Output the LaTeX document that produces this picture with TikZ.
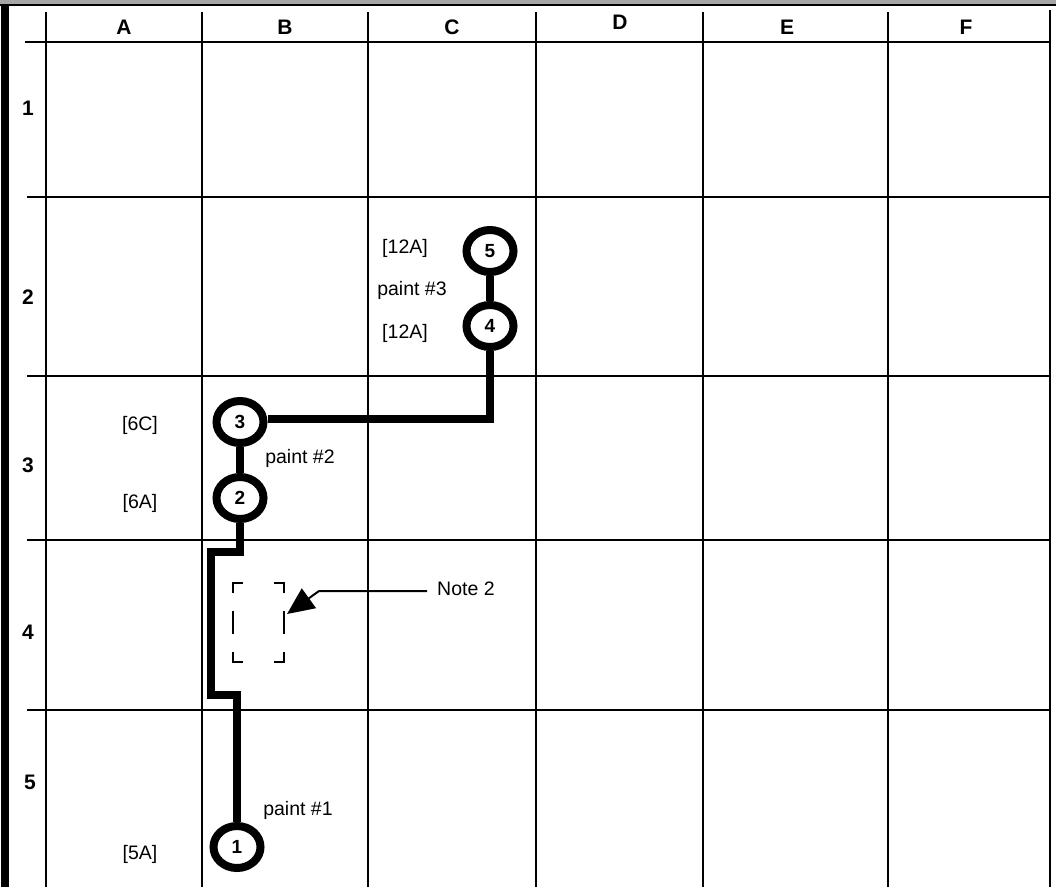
\documentclass[tikz,border=0pt]{standalone}
\usepackage{fontspec}
\setmainfont{Liberation Sans}
\usetikzlibrary{shapes.geometric,arrows.meta}
\definecolor{bandgray}{HTML}{A6A6A6}
\tikzset{
  gridline/.style={line width=2pt},
  hdr/.style={font=\bfseries\fontsize{21}{22}\selectfont, inner sep=0pt},
  lbl/.style={font=\fontsize{19.5}{21}\selectfont, inner sep=0pt},
  pt/.style={ellipse, draw, line width=8pt, minimum width=47pt, minimum height=42pt,
    inner sep=0pt, font=\bfseries\fontsize{19}{20}\selectfont},
  paint/.style={line width=7.5pt},
  dashbox/.style={line width=2pt},
  notearrow/.style={line width=2pt, -{Triangle[length=27pt,width=24pt]}}
}
\begin{document}
\begin{tikzpicture}[x=1pt,y=-1pt]
\useasboundingbox (0,0) rectangle (1056,887);
% frame
\fill[bandgray] (0,0) rectangle (1056,4);
\draw[line width=2.5pt] (0,5.2) -- (1056,5.2);
\fill[black] (1,6) rectangle (8.5,887);
% grid
\foreach \x in {46,202,368,536,703,888}
  \draw[gridline] (\x,12) -- (\x,887);
\draw[line width=2.5pt] (1050,10) -- (1050,887);
\draw[gridline] (25,42) -- (1050,42);
\foreach \y in {197,376,540,710}
  \draw[gridline] (27,\y) -- (1050,\y);
% headers
\node[hdr] (hA) at (124,27) {A};
\node[hdr] (hB) at (285,27) {B};
\node[hdr] (hC) at (452,27) {C};
\node[hdr] (hD) at (620,22) {D};
\node[hdr] (hE) at (787,27) {E};
\node[hdr] (hF) at (966,27) {F};
\node[hdr] (r1) at (28,108) {1};
\node[hdr] (r2) at (28,297) {2};
\node[hdr] (r3) at (28,465) {3};
\node[hdr] (r4) at (28,632) {4};
\node[hdr] (r5) at (30,782) {5};
% points
\node[pt] (n5) at (490,251) {5};
\node[pt] (n4) at (490,326) {4};
\node[pt] (n3) at (240,422) {3};
\node[pt] (n2) at (240,498) {2};
\node[pt] (n1) at (237,847) {1};
% connectors
\coordinate (j1) at (240,552);
\coordinate (j2) at (211,552);
\coordinate (j3) at (211,695);
\coordinate (j4) at (237,695);
\draw[paint] (n5) -- (n4);
\draw[paint] (n4.south) |- ([yshift=3pt]n3.east);
\draw[paint] (n3) -- (n2);
\draw[paint] (n2.south) -- (j1) -- (j2) -- (j3) -- (j4) -- (n1.north);
% labels
\node[lbl] (l12a) at (405,248) {[12A]};
\node[lbl] (p3) at (412,290) {paint \#3};
\node[lbl] (l12b) at (405,333) {[12A]};
\node[lbl] (l6c) at (140,425) {[6C]};
\node[lbl] (p2) at (300,458) {paint \#2};
\node[lbl] (l6a) at (140,503) {[6A]};
\node[lbl] (p1) at (298,810) {paint \#1};
\node[lbl] (l5a) at (140,854) {[5A]};
% dashed box
\draw[dashbox] (233,593) -- (233,583) -- (243,583);
\draw[dashbox] (274,583) -- (284,583) -- (284,593);
\draw[dashbox] (233,652) -- (233,662) -- (243,662);
\draw[dashbox] (274,662) -- (284,662) -- (284,652);
\draw[dashbox] (233,611) -- (233,634);
\draw[dashbox] (284,611) -- (284,634);
% note
\node[lbl, anchor=west] (note) at (437,589) {Note 2};
\coordinate (start) at (427,591);
\coordinate (bend) at (319,591);
\coordinate (tip) at (287,614);
\draw[notearrow] (start) -- (bend) -- (tip);
\end{tikzpicture}
\end{document}
